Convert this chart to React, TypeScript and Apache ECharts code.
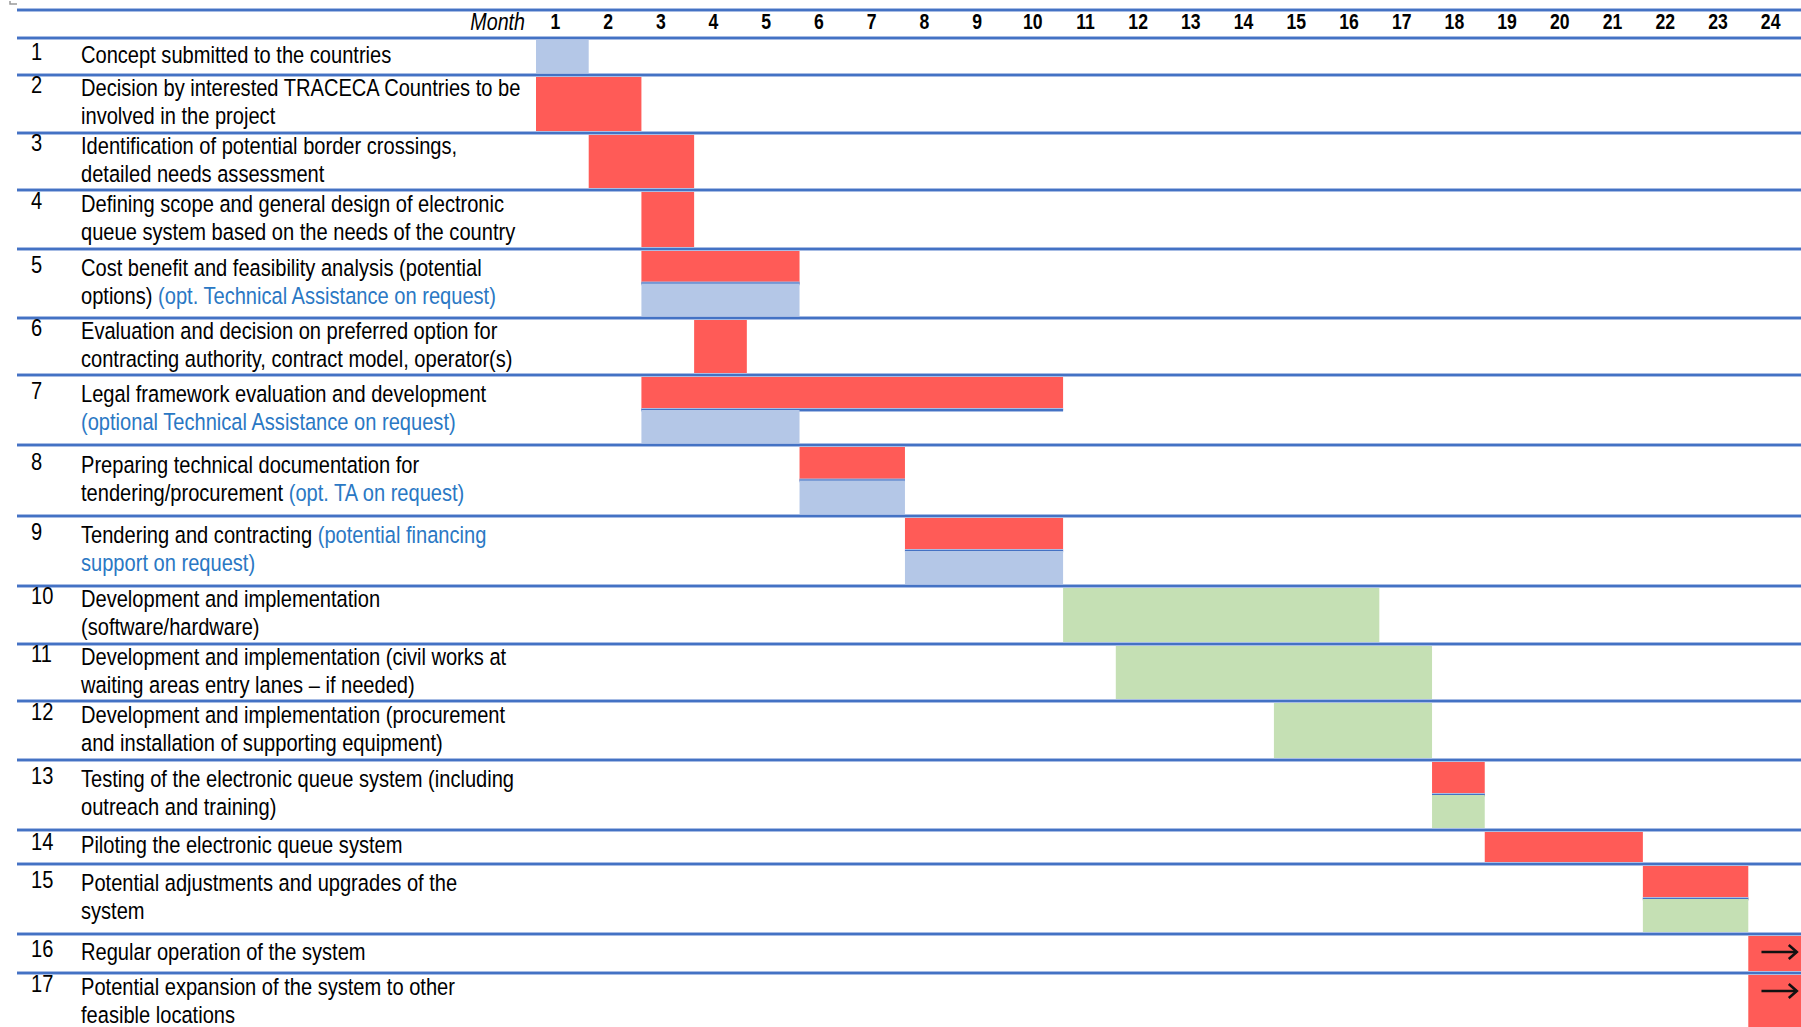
import React, { useEffect, useRef } from "react";
import * as echarts from "echarts";

// ---------- data ----------
const months = ["1","2","3","4","5","6","7","8","9","10","11","12","13","14","15","16","17","18","19","20","21","22","23","24"];
const taskNumbers = ["1","2","3","4","5","6","7","8","9","10","11","12","13","14","15","16","17"];
const taskTexts = [
  "Concept submitted to the countries",
  "Decision by interested TRACECA Countries to be\ninvolved in the project",
  "Identification of potential border crossings,\ndetailed needs assessment",
  "Defining scope and general design of electronic\nqueue system based on the needs of the country",
  "Cost benefit and feasibility analysis (potential\noptions) ",
  "Evaluation and decision on preferred option for\ncontracting authority, contract model, operator(s)",
  "Legal framework evaluation and development\n",
  "Preparing technical documentation for\ntendering/procurement ",
  "Tendering and contracting ",
  "Development and implementation\n(software/hardware)",
  "Development and implementation (civil works at\nwaiting areas entry lanes \u2013 if needed)",
  "Development and implementation (procurement\nand installation of supporting equipment)",
  "Testing of the electronic queue system (including\noutreach and training)",
  "Piloting the electronic queue system",
  "Potential adjustments and upgrades of the\nsystem",
  "Regular operation of the system",
  "Potential expansion of the system to other\nfeasible locations",
];
const taskNotes = [
  "", "", "", "",
  "(opt. Technical Assistance on request)",
  "",
  "(optional Technical Assistance on request)",
  "(opt. TA on request)",
  "(potential financing\nsupport on request)",
  "", "", "", "", "", "", "", "",
];
// bars: task number, start month (0 = beginning of month 1), end month, kind, part of row
const barTask  = [1, 2, 3, 4, 5, 5, 6, 7, 7, 8, 8, 9, 9, 10, 11, 12, 13, 13, 14, 15, 15, 16, 17];
const barStart = [0, 0, 1, 2, 2, 2, 3, 2, 2, 5, 5, 7, 7, 10, 11, 14, 17, 17, 18, 21, 21, 23, 23];
const barEnd   = [1, 2, 3, 3, 5, 5, 4, 10, 5, 7, 7, 10, 10, 16, 17, 17, 18, 18, 21, 23, 23, 24, 24];
const barKind  = ["ta","plan","plan","plan","plan","ta","plan","plan","ta","plan","ta","plan","ta","impl","impl","impl","plan","impl","plan","plan","impl","plan","plan"];
const barPart  = ["full","full","full","full","top","bottom","full","top","bottom","top","bottom","top","bottom","full","full","full","top","bottom","full","top","bottom","full","full"];
const continuingTasks = [16, 17];

// ---------- layout / style ----------
const W = 1801;
const H = 1027;
const GRID_LEFT = 536;
const GRID_TOP = 38;
const HEADER_TOP = 10;
const LINE_LEFT = 17;
const NUM_X = 31;
const TEXT_X = 81;
const LINE_H = 28;
const ROW_HEIGHTS = [37, 58, 57, 59, 69, 57, 70, 71, 70, 58, 57, 59, 70, 34, 70, 39, 59];
const FONT = "'Liberation Sans', Arial, sans-serif";
const NARROW = 0.82;
const TEXT_SIZE = 24.5;
const MONTH_SIZE = 22;
const MONTH_NARROW = 0.8;
const MONTH_Y = 21;
const KINDS = ["plan", "ta", "impl"];
const KIND_COLORS = ["#FF5B57", "#B4C7E7", "#C5E0B4"];
const PARTS = ["full", "top", "bottom"];
const LINE_CORE = "#4472C4";
const LINE_HALO = "#A7BCE4";
const NOTE_COLOR = "#2A78C4";

const rowTops: number[] = [];
ROW_HEIGHTS.forEach((h, i) => rowTops.push(i === 0 ? 0 : rowTops[i - 1] + ROW_HEIGHTS[i - 1]));
// one axis unit = one pixel of the grid
const AXIS_MAX = H - GRID_TOP;

function richLabel(main: string, note: string): string {
  const lines = main.split("\n").map((l) => (l ? `{m|${l}}` : ""));
  if (note) {
    const nl = note.split("\n");
    lines[lines.length - 1] += `{n|${nl[0]}}`;
    for (let k = 1; k < nl.length; k++) lines.push(`{n|${nl[k]}}`);
  }
  return lines.join("\n");
}

function hline(x1: number, x2: number, y: number) {
  return [
    { type: "line", shape: { x1, y1: y, x2, y2: y }, style: { stroke: LINE_HALO, lineWidth: 4 } },
    { type: "line", shape: { x1, y1: y, x2, y2: y }, style: { stroke: LINE_CORE, lineWidth: 2 } },
  ];
}

function buildOption(): any {
  const rowData = ROW_HEIGHTS.map((h, i) => [0, rowTops[i], rowTops[i] + h, i]);
  const barData = barTask.map((t, k) => [
    barStart[k],
    barEnd[k],
    rowTops[t - 1],
    rowTops[t - 1] + ROW_HEIGHTS[t - 1],
    PARTS.indexOf(barPart[k]),
    KINDS.indexOf(barKind[k]),
    continuingTasks.indexOf(t) >= 0 && barKind[k] === "plan" ? 1 : 0,
  ]);
  const monthData = months.map((m, i) => [i + 0.5, 0, i]);

  return {
    animation: false,
    backgroundColor: "#ffffff",
    grid: { left: GRID_LEFT, right: 0, top: GRID_TOP, bottom: 0, containLabel: false },
    xAxis: { type: "value", min: 0, max: 24, show: false },
    yAxis: { type: "value", inverse: true, min: 0, max: AXIS_MAX, show: false },
    graphic: [
      {
        type: "text",
        x: GRID_LEFT - 11,
        y: 22,
        scaleX: NARROW,
        style: { text: "Month", fontFamily: FONT, fontStyle: "italic", fontSize: 24, fill: "#000", align: "right", verticalAlign: "middle" },
      },
      {
        type: "polyline",
        shape: { points: [[10, 1], [10, 4], [17, 4]] },
        style: { stroke: "#9a9a9a", lineWidth: 1.5, fill: "none" },
      },
    ],
    series: [
      {
        type: "custom",
        name: "bars",
        z: 2,
        clip: false,
        encode: { x: [0, 1], y: [2, 3] },
        data: barData,
        renderItem: (params: any, api: any) => {
          const x0 = api.coord([api.value(0), 0])[0];
          const x1 = api.coord([api.value(1), 0])[0];
          const yT = api.coord([0, api.value(2)])[1];
          const yB = api.coord([0, api.value(3)])[1];
          const part = api.value(4);
          const color = KIND_COLORS[api.value(5)];
          const mid = (yT + yB) / 2;
          const top = part === 2 ? mid : yT;
          const bot = part === 1 ? mid : yB;
          const children: any[] = [
            { type: "rect", shape: { x: x0, y: top, width: x1 - x0, height: bot - top }, style: { fill: color } },
          ];
          if (part === 1) children.push(...hline(x0, x1, mid));
          if (api.value(6) === 1) {
            const ay = yT + 18;
            const w = x1 - x0;
            const ax0 = x0 + w * 0.25;
            const ax1 = x0 + w * 0.92;
            children.push({
              type: "line",
              shape: { x1: ax0, y1: ay, x2: ax1, y2: ay },
              style: { stroke: "#111", lineWidth: 2.6 },
            });
            children.push({
              type: "polyline",
              shape: { points: [[ax1 - 8, ay - 7], [ax1, ay], [ax1 - 8, ay + 7]] },
              style: { stroke: "#111", lineWidth: 2.6, fill: "none" },
            });
          }
          return { type: "group", children };
        },
      },
      {
        type: "custom",
        name: "months",
        z: 3,
        clip: false,
        encode: { x: 0, y: 1 },
        data: monthData,
        renderItem: (params: any, api: any) => {
          const idx = api.value(2);
          const label = months[idx];
          const cx = api.coord([api.value(0), 0])[0] + (label.length > 1 ? -4 : -7);
          return {
            type: "text",
            x: cx,
            y: MONTH_Y,
            scaleX: MONTH_NARROW,
            style: { text: label, fontFamily: FONT, fontWeight: "bold", fontSize: MONTH_SIZE, fill: "#000", align: "center", verticalAlign: "middle" },
          };
        },
      },
      {
        type: "custom",
        name: "rows",
        z: 3,
        clip: false,
        encode: { x: 0, y: [1, 2] },
        data: rowData,
        renderItem: (params: any, api: any) => {
          const i = api.value(3);
          const yT = api.coord([0, api.value(1)])[1];
          const yB = api.coord([0, api.value(2)])[1];
          const xR = api.coord([24, 0])[0];
          const label = richLabel(taskTexts[i], taskNotes[i]);
          const n = label.split("\n").length;
          const cy = (yT + yB) / 2 - 2;
          const firstY = cy - ((n - 1) * LINE_H) / 2;
          const children: any[] = [];
          if (i === 0) {
            children.push(...hline(LINE_LEFT, xR, yT));
            children.push(...hline(LINE_LEFT, xR, HEADER_TOP));
          }
          children.push(...hline(LINE_LEFT, xR, yB));
          children.push({
            type: "text",
            x: NUM_X,
            y: firstY - 3,
            scaleX: NARROW,
            style: { text: taskNumbers[i], fontFamily: FONT, fontSize: TEXT_SIZE, fill: "#000", align: "left", verticalAlign: "middle" },
          });
          children.push({
            type: "text",
            x: TEXT_X,
            y: cy,
            scaleX: NARROW,
            style: {
              text: label,
              fontFamily: FONT,
              fontSize: TEXT_SIZE,
              lineHeight: LINE_H,
              fill: "#000",
              align: "left",
              verticalAlign: "middle",
              rich: {
                m: { fontFamily: FONT, fontSize: TEXT_SIZE, lineHeight: LINE_H, fill: "#000" },
                n: { fontFamily: FONT, fontSize: TEXT_SIZE, lineHeight: LINE_H, fill: NOTE_COLOR },
              },
            },
          });
          return { type: "group", children };
        },
      },
    ],
  };
}

export default function App() {
  const ref = useRef<HTMLDivElement>(null);
  useEffect(() => {
    document.body.style.margin = "0";
    const chart = echarts.init(ref.current as HTMLDivElement, null, { renderer: "svg" });
    chart.setOption(buildOption());
    return () => chart.dispose();
  }, []);
  return <div ref={ref} style={{ width: W, height: H, background: "#fff" }} />;
}
